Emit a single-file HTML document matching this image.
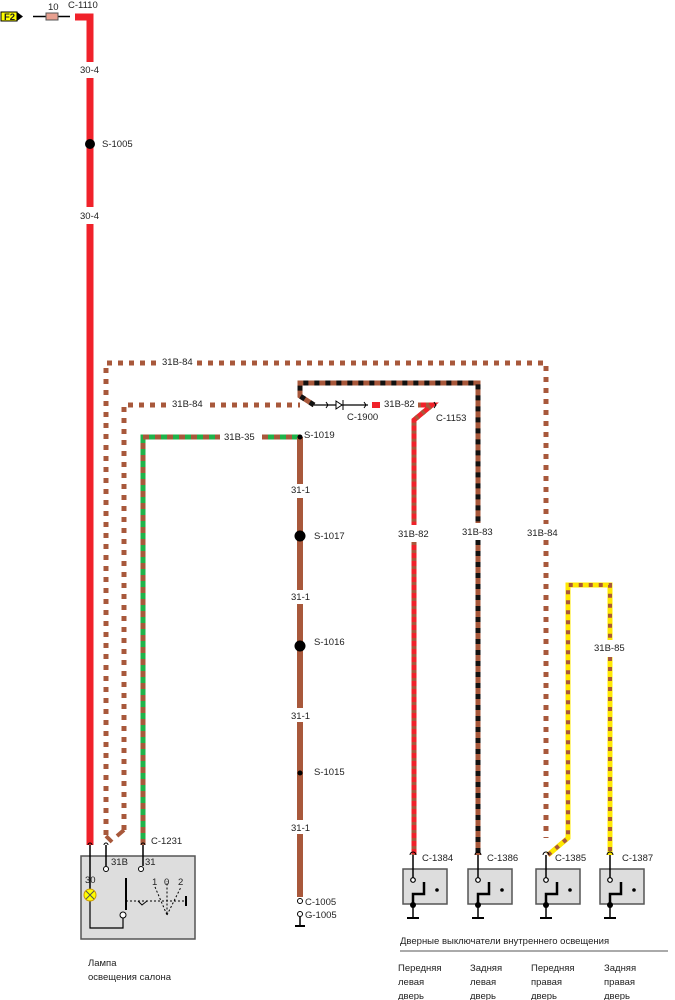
<!DOCTYPE html>
<html><head><meta charset="utf-8"><style>
body{margin:0;background:#fff}
svg{display:block}
text{font-family:"Liberation Sans",sans-serif;font-size:9.5px;fill:#222}
</style></head><body>
<svg width="675" height="1000" viewBox="0 0 675 1000" xmlns="http://www.w3.org/2000/svg">
<defs>
<g id="sw">
<rect x="-10" y="14" width="44" height="35" fill="#ddd" stroke="#555" stroke-width="1.5"/>
<line x1="0" y1="0" x2="0" y2="24" stroke="#000" stroke-width="1.5"/>
<circle cx="0" cy="25" r="2.3" fill="#fff" stroke="#000" stroke-width="1.2"/>
<polyline points="0,50 0,39 11,39 11,27" fill="none" stroke="#000" stroke-width="2.5"/>
<circle cx="24" cy="35" r="1.8" fill="#000"/>
<circle cx="0" cy="50" r="3" fill="#000"/>
<line x1="0" y1="50" x2="0" y2="63" stroke="#000" stroke-width="1.5"/>
<line x1="-6" y1="63" x2="6" y2="63" stroke="#000" stroke-width="2"/>
<path d="M-3,0 a3,3 0 0 1 6,0" fill="none" stroke="#000"/>
</g>
</defs>

<rect x="1" y="12" width="16" height="9" fill="#ff0" stroke="#000" stroke-width="1"/>
<text x="4" y="20" font-size="7" font-weight="bold">F2</text>
<polygon points="17,12 23,16.5 17,21" fill="#000"/>
<line x1="33" y1="16.5" x2="70" y2="16.5" stroke="#000" stroke-width="1.5"/>
<rect x="46" y="13" width="12" height="7" fill="#e8a090" stroke="#555"/>
<text x="48" y="10">10</text>
<text x="68" y="8">C-1110</text>
<polyline points="75,17 90,17 90,62" fill="none" stroke="#f0222a" stroke-width="7"/>
<line x1="90" y1="78" x2="90" y2="207" stroke="#f0222a" stroke-width="7"/>
<line x1="90" y1="224" x2="90" y2="845" stroke="#f0222a" stroke-width="7"/>
<text x="80" y="73">30-4</text>
<text x="80" y="219">30-4</text>
<circle cx="90" cy="144" r="5" fill="#000"/>
<text x="102" y="147">S-1005</text>

<g fill="none" stroke="#a8583b" stroke-width="5" stroke-dasharray="5 6">
<polyline points="106,835 106,363 160,363"/>
<polyline points="197,363 546,363 546,524"/>
<line x1="546" y1="540" x2="546" y2="838"/>
<polyline points="124,830 124,405 168,405"/>
<line x1="210" y1="405" x2="300" y2="405"/>
</g>
<line x1="106" y1="836" x2="112" y2="842" stroke="#a8583b" stroke-width="4"/>
<line x1="124" y1="830" x2="117" y2="836" stroke="#a8583b" stroke-width="4"/>
<text x="162" y="365">31B-84</text>
<text x="172" y="407">31B-84</text>
<text x="527" y="536">31B-84</text>

<polyline points="143,845 143,437 220,437" fill="none" stroke="#1fb34a" stroke-width="5"/>
<polyline points="143,845 143,437 220,437" fill="none" stroke="#a8583b" stroke-width="5" stroke-dasharray="6 6"/>
<line x1="262" y1="437" x2="300" y2="437" stroke="#1fb34a" stroke-width="5"/>
<line x1="262" y1="437" x2="300" y2="437" stroke="#a8583b" stroke-width="5" stroke-dasharray="6 6"/>
<text x="224" y="440">31B-35</text>

<g stroke="#a8583b" stroke-width="6">
<line x1="300" y1="437" x2="300" y2="484"/>
<line x1="300" y1="498" x2="300" y2="590"/>
<line x1="300" y1="604" x2="300" y2="708"/>
<line x1="300" y1="722" x2="300" y2="820"/>
<line x1="300" y1="834" x2="300" y2="897"/>
</g>
<text x="291" y="493">31-1</text>
<text x="291" y="600">31-1</text>
<text x="291" y="719">31-1</text>
<text x="291" y="831">31-1</text>
<circle cx="300" cy="437" r="2.5" fill="#000"/>
<text x="304" y="438">S-1019</text>
<circle cx="300" cy="536" r="5.5" fill="#000"/>
<text x="314" y="539">S-1017</text>
<circle cx="300" cy="646" r="5.5" fill="#000"/>
<text x="314" y="645">S-1016</text>
<circle cx="300" cy="773" r="2.5" fill="#000"/>
<text x="314" y="775">S-1015</text>
<circle cx="300" cy="901" r="2.5" fill="#fff" stroke="#000"/>
<text x="305" y="905">C-1005</text>
<circle cx="300" cy="914" r="2.5" fill="#fff" stroke="#000"/>
<text x="305" y="918">G-1005</text>
<line x1="300" y1="917" x2="300" y2="926" stroke="#000" stroke-width="1.5"/>
<line x1="295" y1="926" x2="305" y2="926" stroke="#000" stroke-width="2"/>

<polyline points="314,405 300,396 300,383 478,383 478,523" fill="none" stroke="#a8583b" stroke-width="5"/>
<polyline points="314,405 300,396 300,383 478,383 478,523" fill="none" stroke="#111" stroke-width="5" stroke-dasharray="5 6"/>
<line x1="478" y1="540" x2="478" y2="855" stroke="#a8583b" stroke-width="5"/>
<line x1="478" y1="540" x2="478" y2="855" stroke="#111" stroke-width="5" stroke-dasharray="5 6"/>
<text x="462" y="535">31B-83</text>
<line x1="314" y1="405" x2="368" y2="405" stroke="#000" stroke-width="1.3"/>
<polygon points="336,401 336,409 342,405" fill="#fff" stroke="#000"/>
<line x1="343" y1="400" x2="343" y2="410" stroke="#000"/>
<path d="M326,402 l2,3 l-2,3 M364,402 l2,3 l-2,3" fill="none" stroke="#000"/>
<text x="347" y="420">C-1900</text>
<rect x="372" y="402" width="8" height="6" fill="#f0222a"/>
<text x="384" y="407">31B-82</text>
<polyline points="418,405 432,405 414,420 414,525" fill="none" stroke="#f0222a" stroke-width="5"/>
<polyline points="418,405 432,405 414,420 414,525" fill="none" stroke="#a8583b" stroke-width="5" stroke-dasharray="3 5"/>
<line x1="414" y1="542" x2="414" y2="855" stroke="#f0222a" stroke-width="5"/>
<line x1="414" y1="542" x2="414" y2="855" stroke="#a8583b" stroke-width="5" stroke-dasharray="3 5"/>
<path d="M434,402 l2,3 l-2,3" fill="none" stroke="#000"/>
<text x="436" y="421">C-1153</text>
<text x="398" y="537">31B-82</text>

<polyline points="548,855 568,838 568,585 610,585 610,640" fill="none" stroke="#ffe800" stroke-width="5"/>
<polyline points="548,855 568,838 568,585 610,585 610,640" fill="none" stroke="#a8583b" stroke-width="4" stroke-dasharray="4 6"/>
<line x1="610" y1="657" x2="610" y2="855" stroke="#ffe800" stroke-width="5"/>
<line x1="610" y1="657" x2="610" y2="855" stroke="#a8583b" stroke-width="4" stroke-dasharray="4 6"/>
<text x="594" y="651">31B-85</text>

<rect x="81" y="856" width="114" height="83" fill="#ddd" stroke="#555" stroke-width="1.5"/>
<line x1="90" y1="845" x2="90" y2="900" stroke="#000" stroke-width="1.5"/>
<polyline points="90,900 90,928 123,928 123,918" fill="none" stroke="#000" stroke-width="1.2"/>
<circle cx="90" cy="895" r="6" fill="#ff0" stroke="#c90"/>
<path d="M86,891 l8,8 M94,891 l-8,8" stroke="#555"/>
<text x="85" y="883">30</text>
<line x1="106" y1="845" x2="106" y2="866" stroke="#000" stroke-width="1.5"/>
<circle cx="106" cy="869" r="2.5" fill="#fff" stroke="#000"/>
<text x="111" y="865">31B</text>
<line x1="143" y1="845" x2="143" y2="866" stroke="#000" stroke-width="1.5"/>
<circle cx="141" cy="869" r="2.5" fill="#fff" stroke="#000"/>
<text x="145" y="865">31</text>
<path d="M88,845 a2,2 0 0 1 4,0 M104,845 a2,2 0 0 1 4,0 M141,845 a2,2 0 0 1 4,0" fill="none" stroke="#000"/>
<line x1="126" y1="878" x2="126" y2="910" stroke="#000" stroke-width="2"/>
<circle cx="123" cy="915" r="3" fill="#fff" stroke="#000"/>
<line x1="126" y1="901" x2="186" y2="901" stroke="#000" stroke-dasharray="2 2"/>
<path d="M138,901 l4,4 l5,-4" fill="none" stroke="#000"/>
<line x1="186" y1="896" x2="186" y2="906" stroke="#000" stroke-width="2"/>
<path d="M155,887 L167,915 L167,881 M167,915 L181,887" fill="none" stroke="#000" stroke-dasharray="2 2"/>
<text x="152" y="885">1</text><text x="164" y="885">0</text><text x="178" y="885">2</text>
<text x="151" y="844">C-1231</text>
<text x="88" y="966" font-size="12">Лампа</text>
<text x="88" y="980" font-size="12">освещения салона</text>

<use href="#sw" x="413" y="855"/>
<use href="#sw" x="478" y="855"/>
<use href="#sw" x="546" y="855"/>
<use href="#sw" x="610" y="855"/>
<text x="422" y="861">C-1384</text>
<text x="487" y="861">C-1386</text>
<text x="555" y="861">C-1385</text>
<text x="622" y="861">C-1387</text>
<text x="400" y="944" font-size="11.5">Дверные выключатели внутреннего освещения</text>
<line x1="400" y1="951" x2="668" y2="951" stroke="#555"/>
<g font-size="12">
<text x="398" y="971">Передняя</text><text x="398" y="985">левая</text><text x="398" y="999">дверь</text>
<text x="470" y="971">Задняя</text><text x="470" y="985">левая</text><text x="470" y="999">дверь</text>
<text x="531" y="971">Передняя</text><text x="531" y="985">правая</text><text x="531" y="999">дверь</text>
<text x="604" y="971">Задняя</text><text x="604" y="985">правая</text><text x="604" y="999">дверь</text>
</g>
</svg>
</body></html>
